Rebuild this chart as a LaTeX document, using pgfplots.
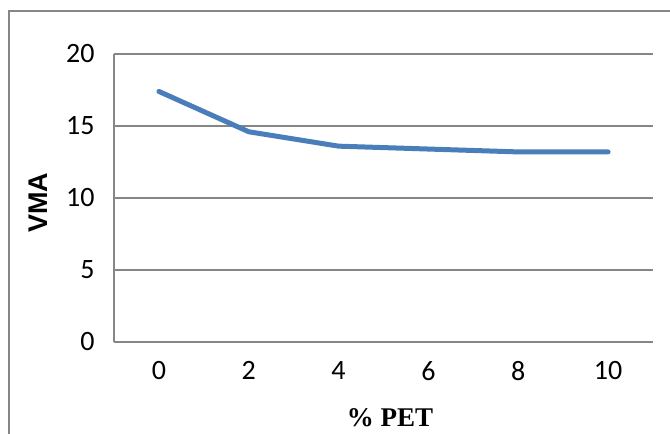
\documentclass[border=0pt]{standalone}
\usepackage{pgfplots}
\pgfplotsset{compat=1.18}
\usepackage{fontspec}
\setmainfont{Carlito}
\newfontfamily\timesfont{Liberation Serif}
\newfontfamily\arialfont{Liberation Sans}
\definecolor{lineblue}{HTML}{4A7EBB}
\definecolor{gridgray}{HTML}{868686}
\begin{document}
\begin{tikzpicture}[x=1pt,y=1pt]
\useasboundingbox (0,0) rectangle (670,434);
\draw[gridgray, line width=1.5pt] (9,0) -- (9,423) -- (670,423);
\begin{axis}[at={(114pt,92pt)}, anchor=south west, width=539pt, height=288pt, scale only axis,
 xmin=-1, xmax=11, ymin=0, ymax=20, xtick={0,2,...,10}, ytick={0,5,...,20},
 axis x line*=bottom, axis y line*=left,
 axis line style={gridgray, line width=1.5pt, -},
 ymajorgrids, major grid style={gridgray, line width=1.5pt},
 major tick length=0pt, tick style={draw=none},
 ticklabel style={font=\fontsize{28}{32}\selectfont},
 /pgf/number format/assume math mode=true,
 xticklabel style={yshift=-16pt},
 yticklabel style={xshift=-16pt},
 clip=false]
\addplot[lineblue, line width=5pt, line cap=round, line join=round] coordinates {
(0,17.4) (2,14.6) (4,13.6) (6,13.4) (8,13.2) (10,13.2)};
\end{axis}
\node[rotate=90, font=\arialfont\bfseries\fontsize{27}{31}\selectfont] at (38,231) {VMA};
\node[font=\timesfont\bfseries\fontsize{27}{32}\selectfont] at (390,16) {\% PET};
\end{tikzpicture}
\end{document}
